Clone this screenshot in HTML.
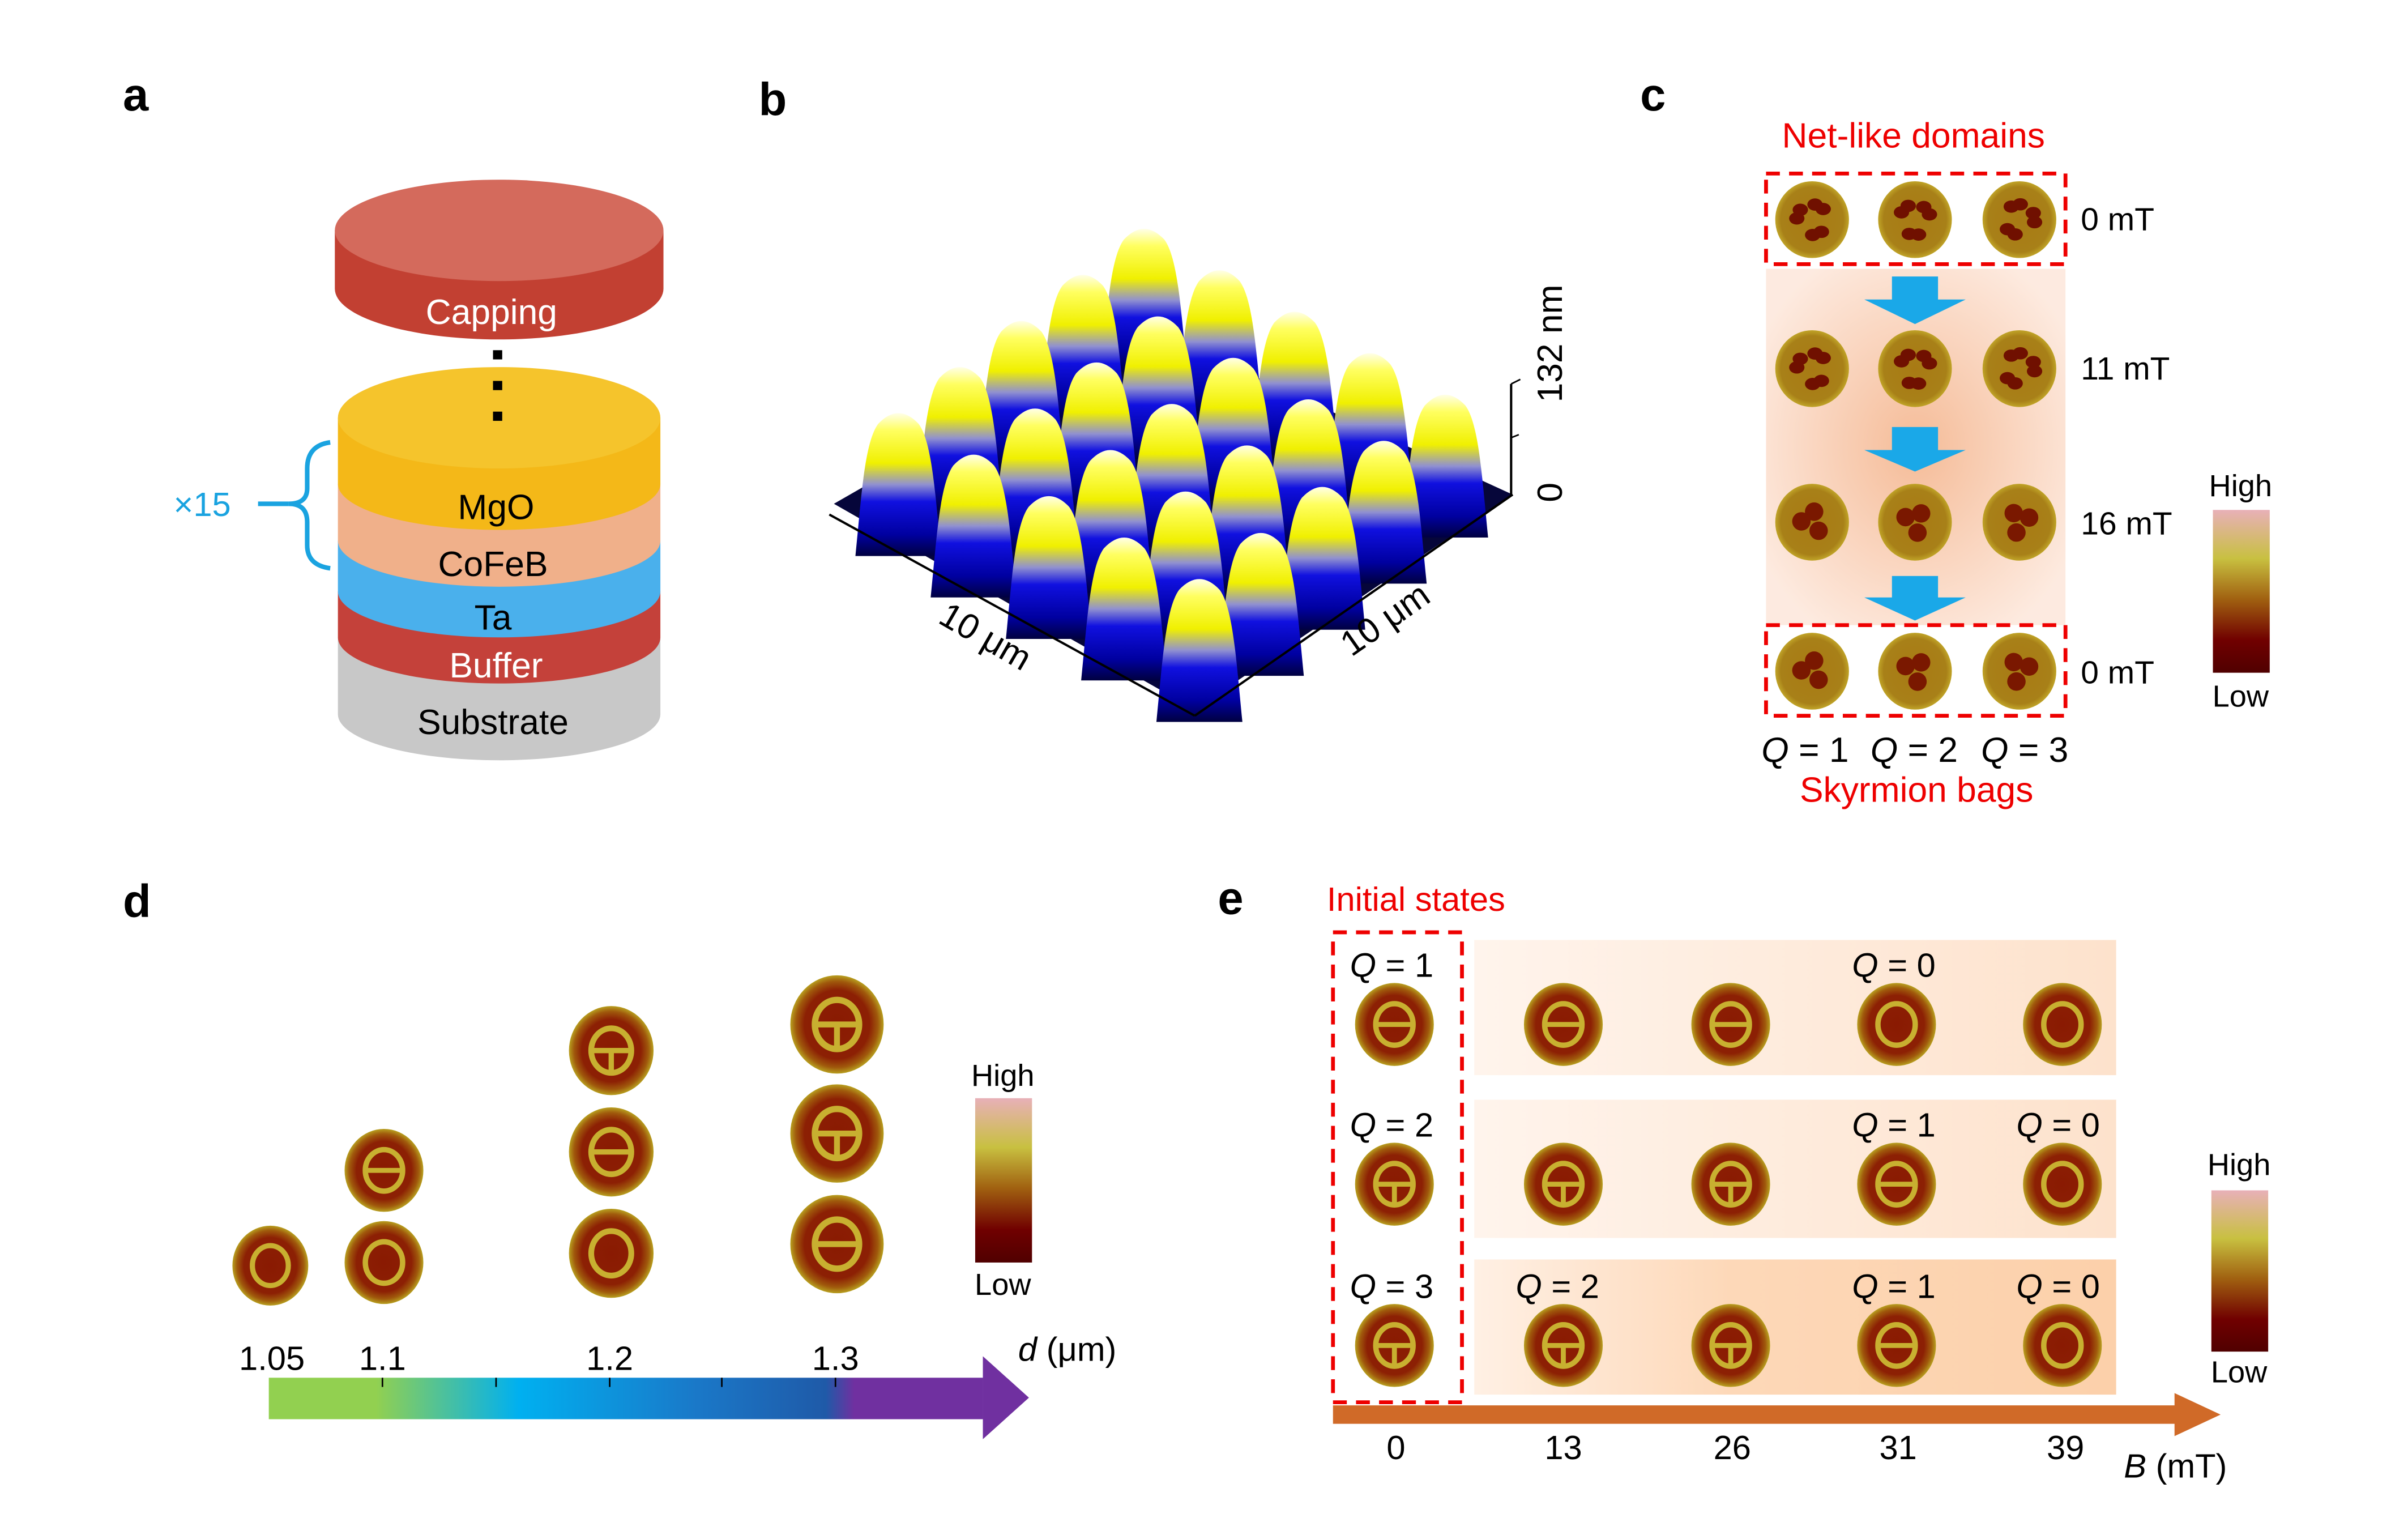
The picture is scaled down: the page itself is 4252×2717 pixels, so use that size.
<!DOCTYPE html>
<html><head><meta charset="utf-8"><style>
html,body{margin:0;padding:0;background:#fff;}
svg{display:block;}
text{font-family:"Liberation Sans",Arial,sans-serif;}
</style></head><body>
<svg width="4252" height="2717" viewBox="0 0 1568 1002" xmlns="http://www.w3.org/2000/svg">
<defs>
 <radialGradient id="sk" cx="50%" cy="50%" r="50%">
  <stop offset="0" stop-color="#8a1a02"/><stop offset="0.7" stop-color="#8c2004"/><stop offset="0.88" stop-color="#a05a0c"/><stop offset="1" stop-color="#b8a020"/>
 </radialGradient>
 <radialGradient id="net" cx="50%" cy="50%" r="50%">
  <stop offset="0" stop-color="#a87a14"/><stop offset="0.85" stop-color="#a88018"/><stop offset="1" stop-color="#c0a428"/>
 </radialGradient>
 <linearGradient id="cbar" x1="0" y1="0" x2="0" y2="1">
  <stop offset="0" stop-color="#e8b0b8"/><stop offset="0.3" stop-color="#c8c040"/><stop offset="0.55" stop-color="#a06010"/><stop offset="0.8" stop-color="#700000"/><stop offset="1" stop-color="#500000"/>
 </linearGradient>
 <linearGradient id="peak" x1="0" y1="0" x2="0" y2="1">
  <stop offset="0" stop-color="#ffffe8"/><stop offset="0.12" stop-color="#ffff60"/><stop offset="0.35" stop-color="#f0f000"/><stop offset="0.5" stop-color="#9090d0"/><stop offset="0.62" stop-color="#1010e0"/><stop offset="0.85" stop-color="#0000a0"/><stop offset="1" stop-color="#000040"/>
 </linearGradient>
 <linearGradient id="dbar" x1="0" y1="0" x2="1" y2="0">
  <stop offset="0" stop-color="#92d050"/><stop offset="0.15" stop-color="#92d050"/><stop offset="0.35" stop-color="#00b0f0"/><stop offset="0.6" stop-color="#1a78c8"/><stop offset="0.78" stop-color="#1f5aa8"/><stop offset="0.82" stop-color="#7030a0"/><stop offset="1" stop-color="#7030a0"/>
 </linearGradient>
 <linearGradient id="row" x1="0" y1="0" x2="1" y2="0">
  <stop offset="0" stop-color="#fff4ec"/><stop offset="1" stop-color="#fde2cc"/>
 </linearGradient>
 <linearGradient id="row3" x1="0" y1="0" x2="1" y2="0">
  <stop offset="0" stop-color="#fff0e4"/><stop offset="0.4" stop-color="#fdd8b8"/><stop offset="1" stop-color="#fcd0aa"/>
 </linearGradient>
 <radialGradient id="cbg" cx="50%" cy="50%" r="60%">
  <stop offset="0" stop-color="#f4b48c"/><stop offset="1" stop-color="#fde8dc"/>
 </radialGradient>
</defs>

<g font-weight="bold" font-size="30">
<text x="80" y="72">a</text><text x="494" y="75">b</text><text x="1068" y="72">c</text>
<text x="80" y="597">d</text><text x="793" y="595">e</text>
</g>

<!-- panel a -->
<path d="M218 150 L218 188 A107 33 0 0 0 432 188 L432 150 Z" fill="#c24032"/>
<ellipse cx="325" cy="150" rx="107" ry="33" fill="#d46a5c"/>
<text x="320" y="211" font-size="23" fill="#fff" text-anchor="middle">Capping</text>
<path d="M220 415 L220 465 A105 30 0 0 0 430 465 L430 415 Z" fill="#c8c8c8"/>
<path d="M220 385 L220 415 A105 30 0 0 0 430 415 L430 385 Z" fill="#c4413a"/>
<path d="M220 352 L220 385 A105 30 0 0 0 430 385 L430 352 Z" fill="#4ab0ec"/>
<path d="M220 315 L220 352 A105 30 0 0 0 430 352 L430 315 Z" fill="#f0b08a"/>
<path d="M220 272 L220 315 A105 30 0 0 0 430 315 L430 272 Z" fill="#f4b818"/>
<ellipse cx="325" cy="272" rx="105" ry="33" fill="#f5c42c"/>
<g fill="#000"><rect x="321" y="228" width="6" height="6"/><rect x="321" y="248" width="6" height="6"/><rect x="321" y="268" width="6" height="6"/></g>
<g font-size="23" text-anchor="middle">
<text x="323" y="338">MgO</text><text x="321" y="375">CoFeB</text><text x="321" y="410">Ta</text>
<text x="323" y="441" fill="#fff">Buffer</text><text x="321" y="478">Substrate</text>
</g>
<text x="113" y="336" font-size="22" fill="#1aa3e0">×15</text>
<path d="M215 288 Q200 290 200 305 L200 318 Q200 328 188 328 Q200 328 200 340 L200 355 Q200 368 215 370" stroke="#1aa3e0" stroke-width="3" fill="none"/>
<line x1="168" y1="328" x2="188" y2="328" stroke="#1aa3e0" stroke-width="3"/>

<!-- panel b -->
<polygon points="543,328 745,212 985,322 778,462" fill="#06063a"/>
<g id="peaks"></g>
<line x1="540" y1="335" x2="778" y2="466" stroke="#000" stroke-width="1.5"/>
<line x1="778" y1="466" x2="985" y2="322" stroke="#000" stroke-width="1.5"/>
<line x1="984" y1="250" x2="984" y2="322" stroke="#000" stroke-width="1.5"/>
<line x1="984" y1="250" x2="990" y2="247" stroke="#000"/><line x1="984" y1="285" x2="989" y2="283" stroke="#000"/>
<text font-size="23" transform="translate(610,405) rotate(30)">10 μm</text>
<text font-size="23" transform="translate(880,428) rotate(-35)">10 μm</text>
<text font-size="23" transform="translate(1017,262) rotate(-90)">132 nm</text>
<text font-size="23" transform="translate(1017,327) rotate(-90)">0</text>

<!-- panel c -->
<rect x="1150" y="175" width="195" height="232" fill="url(#cbg)" opacity="0.9"/>
<text x="1246" y="96" font-size="23" fill="#e00" text-anchor="middle">Net-like domains</text>
<rect x="1150" y="113" width="195" height="59" fill="none" stroke="#e00" stroke-width="2.5" stroke-dasharray="9,6"/>
<rect x="1150" y="407" width="195" height="59" fill="none" stroke="#e00" stroke-width="2.5" stroke-dasharray="9,6"/>
<g fill="#1aa8e8">
<polygon points="1232,180 1262,180 1262,195 1280,195 1247,211 1214,195 1232,195"/>
<polygon points="1232,278 1262,278 1262,293 1280,293 1247,307 1214,293 1232,293"/>
<polygon points="1232,375 1262,375 1262,389 1280,389 1247,404 1214,389 1232,389"/>
</g>
<g id="cdots"></g>
<g font-size="21">
<text x="1355" y="150">0 mT</text><text x="1355" y="247">11 mT</text><text x="1355" y="348">16 mT</text><text x="1355" y="445">0 mT</text>
<text x="1147" y="496" font-size="23"><tspan font-style="italic">Q</tspan> = 1</text>
<text x="1218" y="496" font-size="23"><tspan font-style="italic">Q</tspan> = 2</text>
<text x="1290" y="496" font-size="23"><tspan font-style="italic">Q</tspan> = 3</text>
</g>
<text x="1248" y="522" font-size="23" fill="#e00" text-anchor="middle">Skyrmion bags</text>
<rect x="1441" y="332" width="37" height="106" fill="url(#cbar)"/>
<text x="1459" y="323" font-size="20" text-anchor="middle">High</text>
<text x="1459" y="460" font-size="20" text-anchor="middle">Low</text>

<!-- panel d -->
<g id="ddots"></g>
<rect x="635" y="715" width="37" height="107" fill="url(#cbar)"/>
<text x="653" y="707" font-size="20" text-anchor="middle">High</text>
<text x="653" y="843" font-size="20" text-anchor="middle">Low</text>
<rect x="175" y="897" width="465" height="27" fill="url(#dbar)"/>
<polygon points="640,883 670,910 640,937" fill="#7030a0"/>
<g stroke="#000" stroke-width="1"><line x1="249" y1="897" x2="249" y2="903"/><line x1="323" y1="897" x2="323" y2="903"/><line x1="397" y1="897" x2="397" y2="903"/><line x1="470" y1="897" x2="470" y2="903"/><line x1="544" y1="897" x2="544" y2="903"/></g>
<g font-size="22" text-anchor="middle">
<text x="177" y="892">1.05</text><text x="249" y="892">1.1</text><text x="397" y="892">1.2</text><text x="544" y="892">1.3</text>
</g>
<text x="663" y="886" font-size="22"><tspan font-style="italic">d</tspan> (μm)</text>

<!-- panel e -->
<text x="864" y="593" font-size="22" fill="#e00">Initial states</text>
<rect x="960" y="612" width="418" height="88" fill="url(#row)"/>
<rect x="960" y="716" width="418" height="90" fill="url(#row)"/>
<rect x="960" y="820" width="418" height="88" fill="url(#row3)"/>
<rect x="868" y="607" width="84" height="306" fill="none" stroke="#e00" stroke-width="2.5" stroke-dasharray="9,6"/>
<g id="edots"></g>
<g font-size="22">
<text x="879" y="636"><tspan font-style="italic">Q</tspan> = 1</text>
<text x="879" y="740"><tspan font-style="italic">Q</tspan> = 2</text>
<text x="879" y="845"><tspan font-style="italic">Q</tspan> = 3</text>
<text x="987" y="845"><tspan font-style="italic">Q</tspan> = 2</text>
<text x="1206" y="636"><tspan font-style="italic">Q</tspan> = 0</text>
<text x="1206" y="740"><tspan font-style="italic">Q</tspan> = 1</text>
<text x="1206" y="845"><tspan font-style="italic">Q</tspan> = 1</text>
<text x="1313" y="740"><tspan font-style="italic">Q</tspan> = 0</text>
<text x="1313" y="845"><tspan font-style="italic">Q</tspan> = 0</text>
</g>
<rect x="868" y="915" width="550" height="12" fill="#d06a28"/>
<polygon points="1416,907 1446,921 1416,935" fill="#d06a28"/>
<g font-size="22" text-anchor="middle">
<text x="909" y="950">0</text><text x="1018" y="950">13</text><text x="1128" y="950">26</text><text x="1236" y="950">31</text><text x="1345" y="950">39</text>
</g>
<text x="1383" y="962" font-size="22"><tspan font-style="italic">B</tspan> (mT)</text>
<rect x="1440" y="775" width="37" height="105" fill="url(#cbar)"/>
<text x="1458" y="765" font-size="20" text-anchor="middle">High</text>
<text x="1458" y="900" font-size="20" text-anchor="middle">Low</text>
</svg>
<script>
var NS="http://www.w3.org/2000/svg";
function el(p,t,a){var e=document.createElementNS(NS,t);for(var k in a)e.setAttribute(k,a[k]);p.appendChild(e);return e;}
var pk=document.getElementById("peaks");
var list=[];
for(var i=0;i<5;i++)for(var j=0;j<5;j++)list.push([i,j]);
list.sort(function(a,b){return (a[0]+a[1])-(b[0]+b[1]);});
list.forEach(function(p){
 var x=745-40*p[0]+49*p[1], y=150+30*p[0]+27*p[1];
 var w=22,h=92;
 el(pk,"path",{d:"M"+(x-w-6)+" "+(y+h)+" C"+(x-w-2)+" "+(y+h-40)+" "+(x-w)+" "+(y+18)+" "+(x-w*0.6)+" "+(y+6)+" Q"+x+" "+(y-8)+" "+(x+w*0.6)+" "+(y+6)+" C"+(x+w)+" "+(y+18)+" "+(x+w+2)+" "+(y+h-40)+" "+(x+w+6)+" "+(y+h)+" Z",fill:"url(#peak)"});
});
var cd=document.getElementById("cdots");
[143,240,340,437].forEach(function(y,r){[1180,1247,1315].forEach(function(x){
 el(cd,"ellipse",{cx:x,cy:y,rx:24,ry:25,fill:"url(#net)"});
 var dark=r<2?"#701000":"#7a1800";
 var n=r<2?6:3;
 for(var k=0;k<n;k++){var a=k*2.3+x*0.1, rr=(r<2?10:7);el(cd,"ellipse",{cx:x+Math.cos(a)*rr,cy:y+Math.sin(a)*rr,rx:r<2?5:6,ry:r<2?4:6,fill:dark});}
});});
function sky(g,x,y,r,q){
 el(g,"ellipse",{cx:x,cy:y,rx:r*0.95,ry:r,fill:"url(#sk)"});
 el(g,"ellipse",{cx:x,cy:y,rx:r*0.45,ry:r*0.5,fill:"none",stroke:"#c8b030","stroke-width":r*0.13});
 if(q>=1)el(g,"line",{x1:x-r*0.45,y1:y,x2:x+r*0.45,y2:y,stroke:"#c8b030","stroke-width":r*0.12});
 if(q>=2)el(g,"line",{x1:x,y1:y,x2:x,y2:y+r*0.5,stroke:"#c8b030","stroke-width":r*0.12});
}
var dd=document.getElementById("ddots");
sky(dd,176,824,26,0);sky(dd,250,762,27,1);sky(dd,250,822,27,0);
sky(dd,398,684,29,2);sky(dd,398,750,29,1);sky(dd,398,816,29,0);
sky(dd,545,667,32,3);sky(dd,545,738,32,2);sky(dd,545,810,32,1);
var ed=document.getElementById("edots");
var qs=[[1,1,1,0,0],[2,2,2,1,0],[3,2,2,1,0]];
[667,771,876].forEach(function(y,r){[908,1018,1127,1235,1343].forEach(function(x,c){sky(ed,x,y,27,qs[r][c]);});});
</script>
</body></html>
